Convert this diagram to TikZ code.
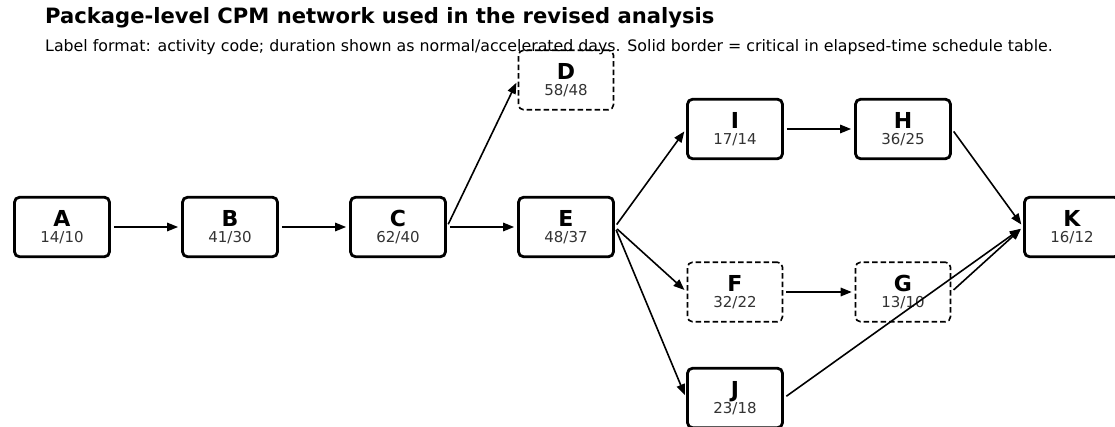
\documentclass[tikz,border=0pt]{standalone}
\usepackage{fontspec}
\setmainfont{DejaVu Sans}
\usetikzlibrary{arrows.meta}
\definecolor{numgray}{HTML}{333333}
\tikzset{
  act/.style={draw=black, rounded corners=5pt, minimum width=95pt, minimum height=59.5pt, inner sep=0pt, fill=white},
  crit/.style={act, line width=2.8pt},
  noncrit/.style={act, line width=1.6pt, dash pattern=on 5.5pt off 3pt},
  conn/.style={-{Triangle[length=11pt,width=8.5pt]}, line width=1.6pt, shorten <=3pt, shorten >=3pt},
}
\newcommand{\actlbl}[2]{\vbox{\baselineskip=15.5pt\lineskiplimit=-20pt\hbox to 80pt{\hfil\fontsize{22}{22}\selectfont\bfseries #1\hfil}\hbox to 80pt{\hfil\fontsize{15}{15}\selectfont\color{numgray}#2\hfil}}}
\begin{document}
\begin{tikzpicture}[x=1pt,y=-1pt]
\useasboundingbox (0,0) rectangle (1115,427);
\node[crit] (A) at (62,227) {\actlbl{A}{14/10}};
\node[crit] (B) at (230,227) {\actlbl{B}{41/30}};
\node[crit] (C) at (398,227) {\actlbl{C}{62/40}};
\node[noncrit] (D) at (566,80) {\actlbl{D}{58/48}};
\node[crit] (E) at (566,227) {\actlbl{E}{48/37}};
\node[crit] (I) at (735,129) {\actlbl{I}{17/14}};
\node[crit] (H) at (903,129) {\actlbl{H}{36/25}};
\node[noncrit] (F) at (735,292) {\actlbl{F}{32/22}};
\node[noncrit] (G) at (903,292) {\actlbl{G}{13/10}};
\node[crit] (J) at (735,398) {\actlbl{J}{23/18}};
\node[crit] (K) at (1072,227) {\actlbl{K}{16/12}};
\draw[conn] (A.east) -- (B.west);
\draw[conn] (B.east) -- (C.west);
\draw[conn] (C.east) -- (D.west);
\draw[conn] (C.east) -- (E.west);
\draw[conn] (E.east) -- (I.west);
\draw[conn] (E.east) -- (F.west);
\draw[conn] (E.east) -- (J.west);
\draw[conn] (I.east) -- (H.west);
\draw[conn] (F.east) -- (G.west);
\draw[conn] (H.east) -- (K.west);
\draw[conn] (G.east) -- (K.west);
\draw[conn] (J.east) -- (K.west);
\node[anchor=base west, inner sep=0pt, font=\fontsize{21.1}{24}\selectfont\bfseries] (title) at (45,24) {Package-level CPM network used in the revised analysis};
\node[anchor=base west, inner sep=0pt, font=\fontsize{15.8}{20}\selectfont] (sub) at (45,52) {Label format: activity code; duration shown as normal/accelerated days. Solid border = critical in elapsed-time schedule table.};
\end{tikzpicture}
\end{document}
